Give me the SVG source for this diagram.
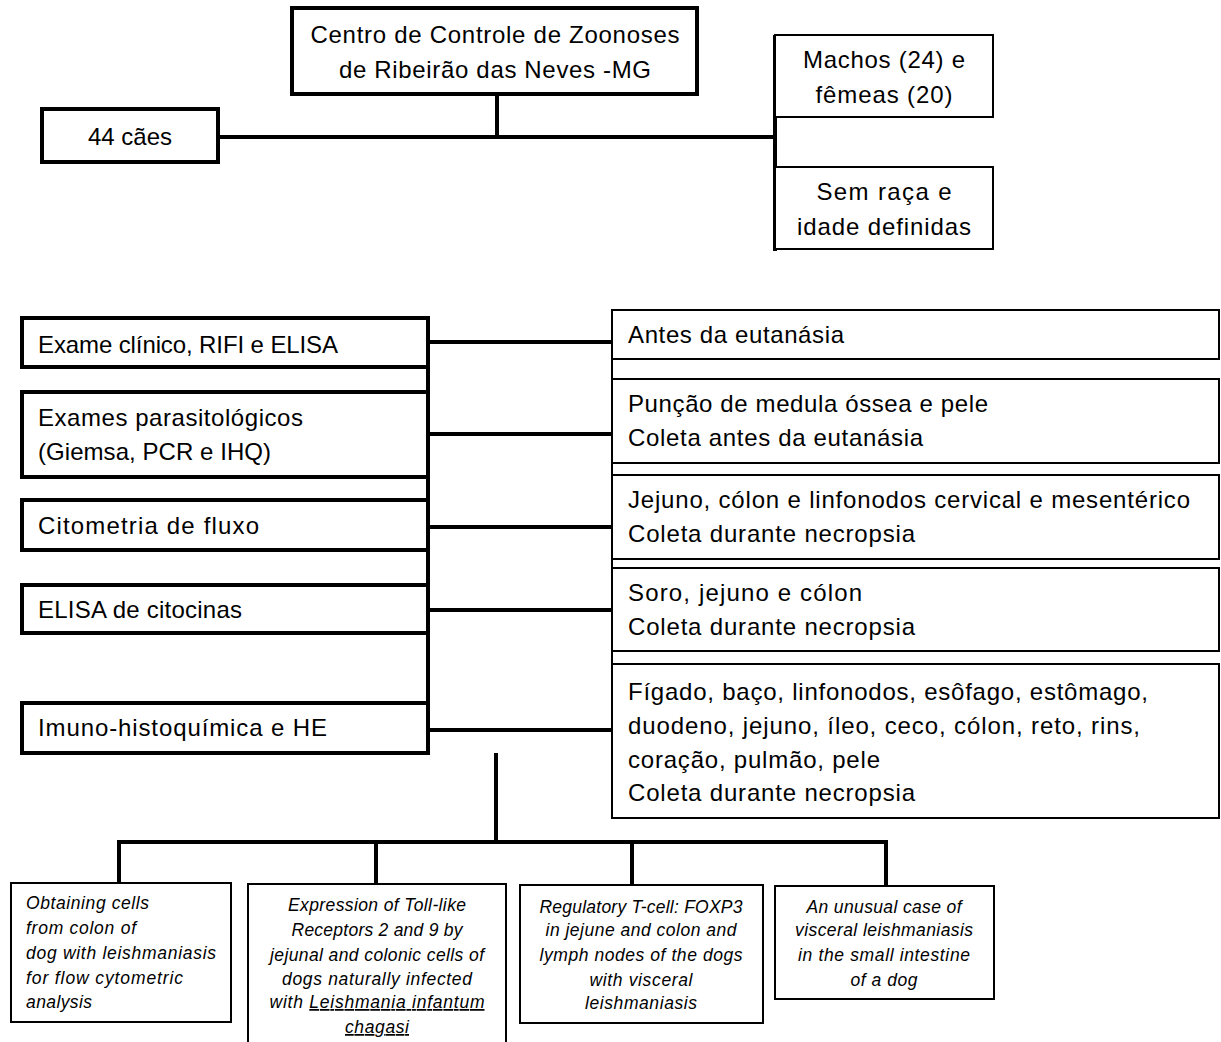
<svg xmlns="http://www.w3.org/2000/svg" width="1221" height="1042" viewBox="0 0 1221 1042">
<style>
.thick{fill:#fff;stroke:#000;stroke-width:4}
.thin{fill:#fff;stroke:#000;stroke-width:2}
.conn{stroke:#000;stroke-width:4;fill:none}
.conn2{stroke:#000;stroke-width:2;fill:none}
.t{font-family:"Liberation Sans",Arial,sans-serif;font-size:24px;fill:#000}
.c{text-anchor:middle}
.i{font-family:"Liberation Sans",Arial,sans-serif;font-size:17.5px;font-style:italic;fill:#000}
</style>
<rect width="1221" height="1042" fill="#fff"/>
<g id="connectors">
<line class="conn" x1="497" y1="94" x2="497" y2="137"/>
<line class="conn" x1="218" y1="137" x2="775" y2="137"/>
<line class="conn" x1="775" y1="35" x2="775" y2="251"/>
<line class="conn" x1="428" y1="318" x2="428" y2="753"/>
<line class="conn2" x1="612" y1="310" x2="612" y2="818"/>
<line class="conn" x1="428" y1="342" x2="612" y2="342"/>
<line class="conn" x1="428" y1="434" x2="612" y2="434"/>
<line class="conn" x1="428" y1="527" x2="612" y2="527"/>
<line class="conn" x1="428" y1="610" x2="612" y2="610"/>
<line class="conn" x1="428" y1="730" x2="612" y2="730"/>
<line class="conn" x1="496" y1="753" x2="496" y2="842"/>
<line class="conn" x1="117" y1="842" x2="888" y2="842"/>
<line class="conn" x1="119" y1="842" x2="119" y2="883"/>
<line class="conn" x1="376" y1="842" x2="376" y2="884"/>
<line class="conn" x1="632" y1="842" x2="632" y2="885"/>
<line class="conn" x1="886" y1="842" x2="886" y2="886"/>
</g>
<g id="n-centro">
<rect class="thick" x="292" y="8" width="405" height="86"/>
<text class="t c" x="495" y="43" textLength="369">Centro de Controle de Zoonoses</text>
<text class="t c" x="495" y="78" textLength="312">de Ribeirão das Neves -MG</text>
</g>
<g id="n-caes">
<rect class="thick" x="42" y="109" width="176" height="53"/>
<text class="t c" x="130" y="145" textLength="84">44 cães</text>
</g>
<g id="n-machos">
<rect class="thin" x="775" y="35" width="218" height="82"/>
<text class="t c" x="884" y="68" textLength="162">Machos (24) e</text>
<text class="t c" x="884" y="103" textLength="137">fêmeas (20)</text>
</g>
<g id="n-semraca">
<rect class="thin" x="775" y="167" width="218" height="82"/>
<text class="t c" x="884" y="200" textLength="135">Sem raça e</text>
<text class="t c" x="884" y="235" textLength="174">idade definidas</text>
</g>
<g id="n-exame">
<rect class="thick" x="22" y="318" width="406" height="49"/>
<text class="t" x="38" y="353" textLength="300">Exame clínico, RIFI e ELISA</text>
</g>
<g id="n-parasito">
<rect class="thick" x="22" y="392" width="406" height="85"/>
<text class="t" x="38" y="426" textLength="265">Exames parasitológicos</text>
<text class="t" x="38" y="460" textLength="233">(Giemsa, PCR e IHQ)</text>
</g>
<g id="n-citometria">
<rect class="thick" x="22" y="500" width="406" height="50"/>
<text class="t" x="38" y="534" textLength="221">Citometria de fluxo</text>
</g>
<g id="n-elisa">
<rect class="thick" x="22" y="585" width="406" height="48"/>
<text class="t" x="38" y="618" textLength="204">ELISA de citocinas</text>
</g>
<g id="n-imuno">
<rect class="thick" x="22" y="703" width="406" height="50"/>
<text class="t" x="38" y="736" textLength="289">Imuno-histoquímica e HE</text>
</g>
<g id="n-antes">
<rect class="thin" x="612" y="310" width="607" height="49"/>
<text class="t" x="628" y="343" textLength="216">Antes da eutanásia</text>
</g>
<g id="n-puncao">
<rect class="thin" x="612" y="379" width="607" height="84"/>
<text class="t" x="628" y="412" textLength="360">Punção de medula óssea e pele</text>
<text class="t" x="628" y="446" textLength="295">Coleta antes da eutanásia</text>
</g>
<g id="n-jejuno">
<rect class="thin" x="612" y="475" width="607" height="84"/>
<text class="t" x="628" y="508" textLength="562">Jejuno, cólon e linfonodos cervical e mesentérico</text>
<text class="t" x="628" y="542" textLength="287">Coleta durante necropsia</text>
</g>
<g id="n-soro">
<rect class="thin" x="612" y="568" width="607" height="83"/>
<text class="t" x="628" y="601" textLength="234">Soro, jejuno  e cólon</text>
<text class="t" x="628" y="635" textLength="287">Coleta durante necropsia</text>
</g>
<g id="n-figado">
<rect class="thin" x="612" y="664" width="607" height="154"/>
<text class="t" x="628" y="700" textLength="520">Fígado, baço, linfonodos, esôfago, estômago,</text>
<text class="t" x="628" y="734" textLength="512">duodeno, jejuno, íleo, ceco, cólon, reto, rins,</text>
<text class="t" x="628" y="768" textLength="252">coração, pulmão, pele</text>
<text class="t" x="628" y="801" textLength="287">Coleta durante necropsia</text>
</g>
<g id="n-obtaining">
<rect class="thin" x="11" y="883" width="220" height="139"/>
<text class="i" x="26" y="909" textLength="123">Obtaining cells</text>
<text class="i" x="26" y="934" textLength="110">from colon of</text>
<text class="i" x="26" y="959" textLength="190">dog with leishmaniasis</text>
<text class="i" x="26" y="984" textLength="157">for flow cytometric</text>
<text class="i" x="26" y="1008" textLength="66">analysis</text>
</g>
<g id="n-toll">
<rect class="thin" x="248" y="884" width="258" height="165"/>
<text class="i c" x="377" y="911" textLength="178">Expression of Toll-like</text>
<text class="i c" x="377" y="936" textLength="171">Receptors 2 and 9 by</text>
<text class="i c" x="377" y="961" textLength="214">jejunal and colonic cells of</text>
<text class="i c" x="377" y="985" textLength="190">dogs naturally infected</text>
<text class="i c" x="377" y="1008" textLength="215">with <tspan text-decoration="underline">Leishmania infantum</tspan></text>
<text class="i c" x="377" y="1033" textLength="64" text-decoration="underline">chagasi</text>
</g>
<g id="n-foxp3">
<rect class="thin" x="520" y="885" width="243" height="138"/>
<text class="i c" x="641" y="913" textLength="203">Regulatory T-cell: FOXP3</text>
<text class="i c" x="641" y="936" textLength="191">in jejune and colon and</text>
<text class="i c" x="641" y="961" textLength="203">lymph nodes of the dogs</text>
<text class="i c" x="641" y="986" textLength="103">with visceral</text>
<text class="i c" x="641" y="1009" textLength="112">leishmaniasis</text>
</g>
<g id="n-unusual">
<rect class="thin" x="775" y="886" width="219" height="113"/>
<text class="i c" x="884" y="913" textLength="155">An unusual case of</text>
<text class="i c" x="884" y="936" textLength="178">visceral leishmaniasis</text>
<text class="i c" x="884" y="961" textLength="172">in the small intestine</text>
<text class="i c" x="884" y="986" textLength="67">of a dog</text>
</g>
</svg>
